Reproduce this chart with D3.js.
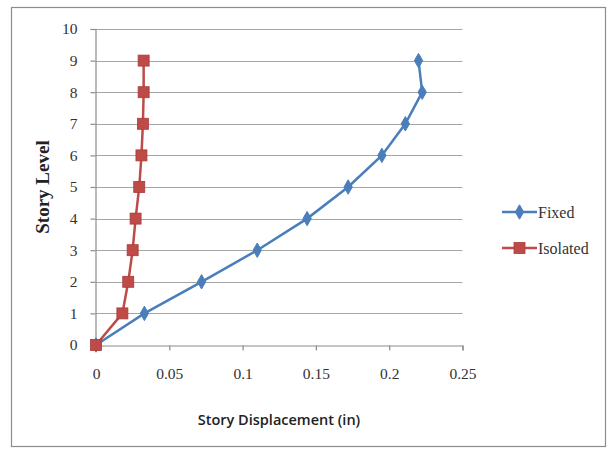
<!DOCTYPE html>
<html><head><meta charset="utf-8">
<script src="https://cdn.jsdelivr.net/npm/d3@7"></script>
<style>body{margin:0;background:#fff}svg{display:block}</style>
</head><body>
<script>
const levels = [0,1,2,3,4,5,6,7,8,9];
const fixedDisp = [0,0.033,0.072,0.110,0.144,0.172,0.195,0.211,0.2225,0.220];
const isolatedDisp = [0,0.018,0.022,0.025,0.027,0.0295,0.031,0.032,0.0325,0.0325];
const xTicks = [0,0.05,0.1,0.15,0.2,0.25];
const xTickLabels = ["0","0.05","0.1","0.15","0.2","0.25"];
const yTicks = [0,1,2,3,4,5,6,7,8,9,10];
const seriesNames = ["Fixed","Isolated"];
const seriesColors = ["#4A7EBB","#BE4B48"];

const W=608,H=452;
const svg=d3.select("body").append("svg").attr("width",W).attr("height",H);
svg.append("rect").attr("x",11.5).attr("y",7.5).attr("width",594).attr("height",439)
  .attr("fill","#fff").attr("stroke","#8c8c8c").attr("stroke-width",1.2);

const x=d3.scaleLinear().domain([0,0.25]).range([96,462.5]);
const y=d3.scaleLinear().domain([0,10]).range([345,29]);

// gridlines
svg.append("g").selectAll("line").data(yTicks.filter(d=>d>0)).join("line")
  .attr("x1",x(0)).attr("x2",x(0.25)).attr("y1",d=>Math.round(y(d))+0.5).attr("y2",d=>Math.round(y(d))+0.5)
  .attr("stroke","#a6a6a6").attr("stroke-width",1.2);

// axes
const xAxis=d3.axisBottom(x).tickValues(xTicks).tickFormat((d,i)=>xTickLabels[i]).tickSize(5).tickPadding(17);
const gx=svg.append("g").attr("transform",`translate(0,${Math.round(y(0))+0.5})`).call(xAxis);
const yAxis=d3.axisLeft(y).tickValues(yTicks).tickSize(5).tickPadding(13);
const gy=svg.append("g").attr("transform",`translate(${x(0)-0.5},0)`).call(yAxis);
[gx,gy].forEach(g=>{
  g.select(".domain").attr("stroke","#8c8c8c").attr("stroke-width",1.2);
  g.selectAll(".tick line").attr("stroke","#8c8c8c").attr("stroke-width",1.2);
  g.selectAll("text").attr("font-family","'Liberation Serif','Times New Roman',serif")
   .attr("font-size",15.5).attr("fill","#333");
});
gx.selectAll(".tick text").attr("dy","0.75em");

// axis titles
svg.append("text").attr("x",279).attr("y",425).attr("text-anchor","middle")
  .attr("font-family","'Open Sans',sans-serif").attr("font-weight",600).attr("font-size",14.5)
  .attr("fill","#222").text("Story Displacement (in)");
svg.append("text").attr("transform","translate(49,187) rotate(-90)").attr("text-anchor","middle")
  .attr("font-family","'Liberation Serif',serif").attr("font-weight","bold").attr("font-size",19)
  .attr("fill","#222").text("Story Level");

const line=d3.line().x(d=>x(d[0])).y(d=>y(d[1]));
const data=[fixedDisp.map((v,i)=>[v,levels[i]]), isolatedDisp.map((v,i)=>[v,levels[i]])];

function marker(g,i,cx,cy){
  if(i===0){
    g.append("path").attr("d",d3.symbol(d3.symbolDiamond,60)()).attr("transform",`translate(${cx},${cy})`)
      .attr("fill",seriesColors[0]).attr("stroke",seriesColors[0]);
  } else {
    g.append("rect").attr("x",cx-5.5).attr("y",cy-5.5).attr("width",11).attr("height",11)
      .attr("fill",seriesColors[1]).attr("stroke","#a83c39").attr("stroke-width",0.8);
  }
}

data.forEach((pts,i)=>{
  const g=svg.append("g");
  g.append("path").datum(pts).attr("d",line).attr("fill","none")
    .attr("stroke",seriesColors[i]).attr("stroke-width",2.5);
  pts.forEach(p=>marker(g,i,x(p[0]),y(p[1])));
});

// legend
const leg=[212,248];
seriesNames.forEach((n,i)=>{
  const g=svg.append("g");
  g.append("line").attr("x1",502).attr("x2",537).attr("y1",leg[i]).attr("y2",leg[i])
    .attr("stroke",seriesColors[i]).attr("stroke-width",2.5);
  marker(g,i,519.5,leg[i]);
  g.append("text").attr("x",538).attr("y",leg[i]).attr("dy","0.35em")
    .attr("font-family","'Liberation Serif',serif").attr("font-size",16).attr("fill","#333").text(n);
});
</script>
</body></html>
